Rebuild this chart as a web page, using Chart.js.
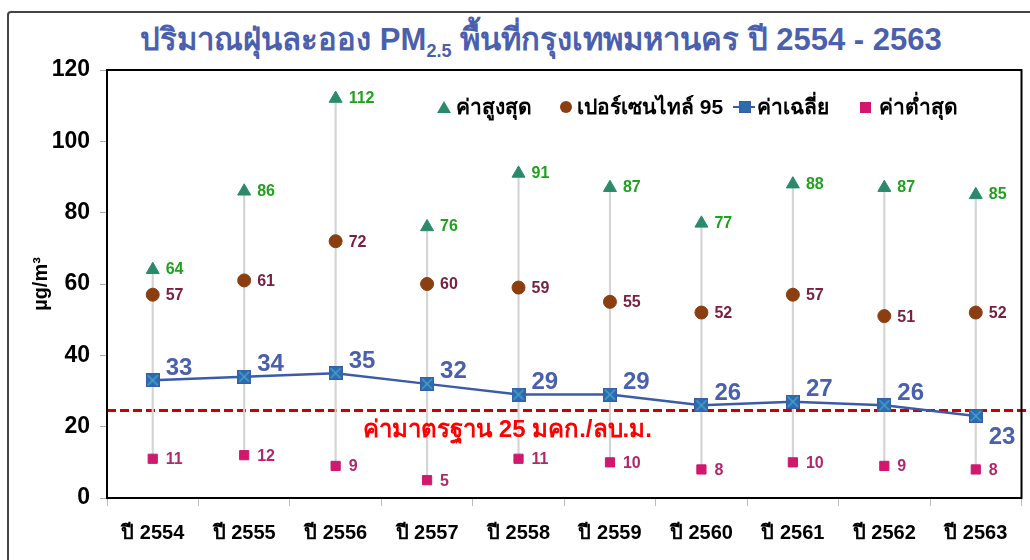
<!DOCTYPE html>
<html>
<head>
<meta charset="utf-8">
<script src="https://cdn.jsdelivr.net/npm/chart.js@4.4.1/dist/chart.umd.min.js"></script>
<style>
  html, body { margin: 0; padding: 0; background: #fff; }
  body { width: 1030px; height: 560px; position: relative; overflow: hidden;
         font-family: "Liberation Sans", "Noto Sans", Arial, sans-serif; }
  #frame { position: absolute; left: 7px; top: 11px; width: 1040px; height: 580px;
           border: 2px solid #444; border-radius: 4px; box-sizing: border-box; }
  #title { position: absolute; left: 0; width: 1082px; top: 19px; text-align: center;
           color: #4a5fae; font-weight: bold; font-size: 31px; line-height: 42px; }
  #title sub { font-size: 18px; vertical-align: -7px; }
  #wrap { position: absolute; left: 0; top: 0; width: 1030px; height: 560px; }
  .item { position: absolute; top: 94px; font-weight: bold; font-size: 21px; color: #000;
          white-space: nowrap; line-height: 26px; }
  .mk { display: inline-block; vertical-align: middle; margin-right: 5px; position: relative; top: -1px; }
  .tri { width: 0; height: 0; border-left: 7px solid transparent; border-right: 7px solid transparent;
         border-bottom: 12px solid #2a8a6a; }
  .dot { width: 12px; height: 12px; border-radius: 50%; background: #8b3f10; }
  .ln { width: 22px; height: 12px; margin-right: 2px; }
  .ln::before { content: ""; position: absolute; left: 0; right: 0; top: 5px; height: 2px; background: #3a5ca8; }
  .ln::after { content: ""; position: absolute; left: 6px; top: 0; width: 10px; height: 10px;
               background: #2b6cb0; border: 1px solid #3a5ca8; }
  .sq { width: 11px; height: 11px; background: #d0186e; margin-right: 8px; }
</style>
</head>
<body>
<div id="frame"></div>
<div id="title">ปริมาณฝุ่นละออง PM<sub>2.5</sub> พื้นที่กรุงเทพมหานคร ปี 2554 - 2563</div>
<div id="wrap"><canvas id="chart" width="1030" height="560"></canvas></div>
<div class="item" style="left:437px"><span class="mk tri"></span>ค่าสูงสุด</div>
<div class="item" style="left:560px"><span class="mk dot"></span>เปอร์เซนไทล์ 95</div>
<div class="item" style="left:733px"><span class="mk ln"></span>ค่าเฉลี่ย</div>
<div class="item" style="left:860px"><span class="mk sq"></span>ค่าต่ำสุด</div>
<script>
  const years = ["ปี 2554", "ปี 2555", "ปี 2556", "ปี 2557", "ปี 2558",
                 "ปี 2559", "ปี 2560", "ปี 2561", "ปี 2562", "ปี 2563"];
  const maxVals = [64, 86, 112, 76, 91, 87, 77, 88, 87, 85];
  const p95Vals = [57, 61, 72, 60, 59, 55, 52, 57, 51, 52];
  const avgVals = [33, 34, 35, 32, 29, 29, 26, 27, 26, 23];
  const minVals = [11, 12, 9, 5, 11, 10, 8, 10, 9, 8];
  const standard = 24.5;
  const standardLabel = "ค่ามาตรฐาน 25 มคก./ลบ.ม.";
  const yTicks = [0, 20, 40, 60, 80, 100, 120];

  const FONT = '"Liberation Sans", "Noto Sans", Arial, sans-serif';

  // min-max range as thin floating bars
  const ranges = minVals.map((v, i) => [v, maxVals[i]]);

  // avg marker: blue square with a light cross
  const avgMark = document.createElement("canvas");
  avgMark.width = 14; avgMark.height = 14;
  {
    const c = avgMark.getContext("2d");
    c.fillStyle = "#2b6cb0";
    c.fillRect(0, 0, 14, 14);
    c.strokeStyle = "#3a5ca8";
    c.lineWidth = 1;
    c.strokeRect(0.5, 0.5, 13, 13);
    c.strokeStyle = "#49a0c8";
    c.lineWidth = 1.5;
    c.beginPath();
    c.moveTo(2, 2); c.lineTo(12, 12);
    c.moveTo(12, 2); c.lineTo(2, 12);
    c.stroke();
  }

  // frame around plot + red standard line with its label
  const framePlugin = {
    id: "frame",
    beforeDatasetsDraw(chart) {
      const { ctx, chartArea: a, scales } = chart;
      const y = scales.y.getPixelForValue(standard);
      ctx.save();
      ctx.strokeStyle = "#cc0000";
      ctx.lineWidth = 3;
      ctx.setLineDash([9, 4]);
      ctx.beginPath();
      ctx.moveTo(a.left, y);
      ctx.lineTo(a.right + 7, y);
      ctx.stroke();
      ctx.restore();
    },
    afterDraw(chart) {
      const { ctx, chartArea: a, scales } = chart;
      ctx.save();
      ctx.strokeStyle = "#000";
      ctx.lineWidth = 2;
      ctx.strokeRect(a.left, a.top, a.right - a.left, a.bottom - a.top);
      const y = scales.y.getPixelForValue(standard);
      ctx.fillStyle = "#ff0000";
      ctx.font = "bold 24px " + FONT;
      ctx.textAlign = "center";
      ctx.textBaseline = "middle";
      const cx = (scales.x.getPixelForValue(2) + scales.x.getPixelForValue(6)) / 2 - 11;
      ctx.fillText(standardLabel, cx, y + 20);
      ctx.restore();
    },
  };

  // value labels next to markers
  const labelPlugin = {
    id: "vlabels",
    afterDatasetsDraw(chart) {
      const { ctx } = chart;
      ctx.save();
      ctx.textAlign = "left";
      ctx.textBaseline = "middle";
      chart.data.datasets.forEach((ds, di) => {
        if (!ds.lbl) return;
        const meta = chart.getDatasetMeta(di);
        meta.data.forEach((pt, i) => {
          const v = ds.data[i];
          let dy = ds.lbl.dy;
          if (ds.lbl.below && ds.lbl.below(i)) dy = ds.lbl.belowDy;
          ctx.font = "bold " + ds.lbl.size + "px " + FONT;
          ctx.fillStyle = ds.lbl.color;
          ctx.fillText(String(v), pt.x + ds.lbl.dx, pt.y + dy);
        });
      });
      ctx.restore();
    },
  };

  new Chart(document.getElementById("chart"), {
    type: "bar",
    data: {
      labels: years,
      datasets: [
        {
          type: "line",
          label: "ค่าสูงสุด",
          data: maxVals,
          showLine: false,
          pointStyle: "triangle",
          pointRadius: 7.5,
          backgroundColor: "#2a8a6a",
          borderColor: "#2a8a6a",
          lbl: { dx: 13, dy: 0, size: 16, color: "#22a020" },
          order: 1,
        },
        {
          type: "line",
          label: "เปอร์เซนไทล์ 95",
          data: p95Vals,
          showLine: false,
          pointStyle: "circle",
          pointRadius: 6.5,
          backgroundColor: "#8b3f10",
          borderColor: "#8b3f10",
          lbl: { dx: 13, dy: 1, size: 16, color: "#7a2040" },
          order: 1,
        },
        {
          type: "line",
          label: "ค่าเฉลี่ย",
          data: avgVals,
          borderColor: "#3a5ca8",
          borderWidth: 2.5,
          pointStyle: avgMark,
          lbl: { dx: 13, dy: -12, size: 24, color: "#4a5fae",
                 below: (i) => i === avgVals.length - 1, belowDy: 21 },
          order: 1,
        },
        {
          type: "line",
          label: "ค่าต่ำสุด",
          data: minVals,
          showLine: false,
          pointStyle: "rect",
          pointRadius: 6.5,
          backgroundColor: "#d0186e",
          borderColor: "#d0186e",
          lbl: { dx: 13, dy: 1, size: 16, color: "#b0286a" },
          order: 1,
        },
        {
          type: "bar",
          label: "range",
          data: ranges,
          backgroundColor: "#d4d4d4",
          barThickness: 1.5,
          order: 5,
        },
      ],
    },
    options: {
      responsive: false,
      animation: false,
      layout: { padding: { left: 0, top: 70, right: 6, bottom: 0 } },
      plugins: {
        legend: { display: false },
        tooltip: { enabled: false },
      },
      scales: {
        x: {
          afterFit: (s) => { s.height = 62; },
          grid: { offset: true, drawOnChartArea: false, tickLength: 8, color: "#bbb" },
          border: { display: false },
          ticks: { color: "#000", padding: 15, font: { family: FONT, size: 20, weight: "bold" } },
        },
        y: {
          min: 0,
          max: 120,
          afterFit: (s) => { s.width = 107; },
          afterBuildTicks: (s) => { s.ticks = yTicks.map((v) => ({ value: v })); },
          grid: { drawOnChartArea: false, tickLength: 7, color: "#aaa" },
          border: { display: false },
          ticks: { color: "#000", padding: 10, font: { family: FONT, size: 23, weight: "bold" } },
          title: {
            display: true,
            text: "µg/m³",
            color: "#000",
            padding: { top: 29 },
            font: { family: FONT, size: 20, weight: "bold" },
          },
        },
      },
    },
    plugins: [framePlugin, labelPlugin],
  });
</script>
</body>
</html>
